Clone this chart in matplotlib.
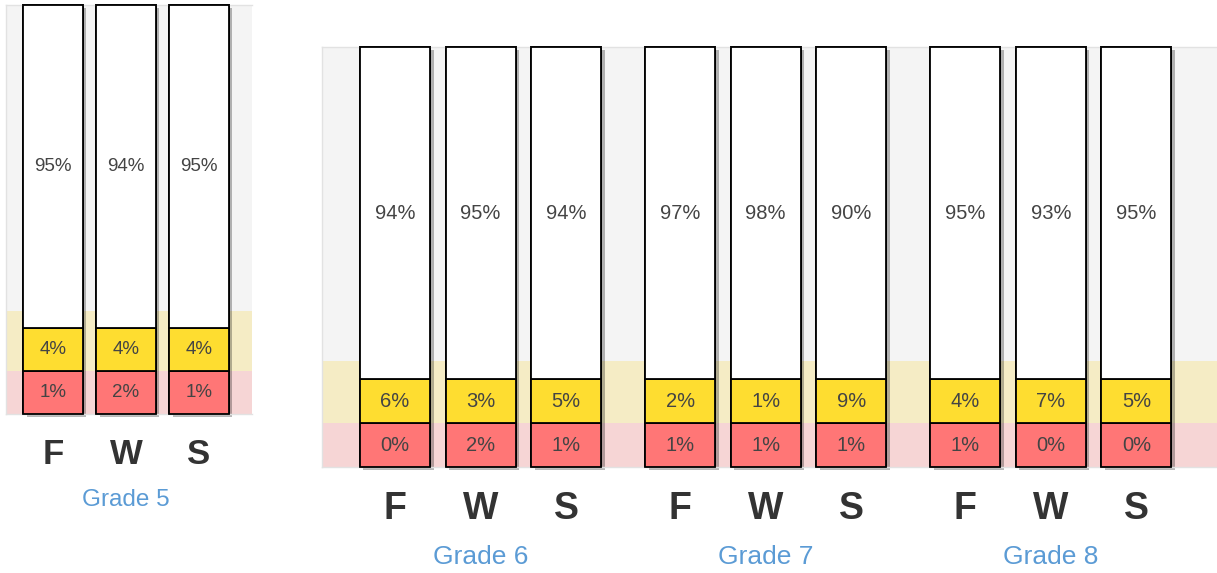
import matplotlib
matplotlib.use("Agg")
import matplotlib.pyplot as plt
import matplotlib.patheffects as pe

plt.rcParams['font.family'] = ['Liberation Sans', 'DejaVu Sans']

# ---- data ----
seasons = ["F", "W", "S"]
grades = ["Grade 5", "Grade 6", "Grade 7", "Grade 8"]
# percentages per grade per season: [red, yellow, white]
red_vals = [[1, 2, 1], [0, 2, 1], [1, 1, 1], [1, 0, 0]]
yellow_vals = [[4, 4, 4], [6, 3, 5], [2, 1, 9], [4, 7, 5]]
white_vals = [[95, 94, 95], [94, 95, 94], [97, 98, 90], [95, 93, 95]]

W, H = 1217, 573
fig = plt.figure(figsize=(W / 100, H / 100), dpi=100)
fig.patch.set_facecolor("white")

C_GREY = "#f4f4f4"
C_YBAND = "#f5ecc5"
C_PBAND = "#f6d5d5"
C_YEL = "#fedd30"
C_RED = "#ff7676"
C_TXT = "#444444"
C_LAB = "#333333"
C_BLUE = "#5b9bd5"

shadow = [pe.SimplePatchShadow(offset=(2.5, -2.5), shadow_rgbFace="#000000", alpha=0.28), pe.Normal()]


def make_axes(x0, y0, x1, y1):
    # pixel coords (top-left origin) -> figure fraction
    return fig.add_axes([x0 / W, 1 - y1 / H, (x1 - x0) / W, (y1 - y0) / H])


def draw_panel(ax, positions, reds, yels, whites, white_h, band_top, xlim, width,
               pct_fs, lab_fs, grade_fs, grade_names, grade_centers, lab_y, grade_y):
    ax.set_xlim(*xlim)
    ax.set_ylim(0, 2 + white_h)
    ax.set_facecolor(C_GREY)
    ax.axhspan(0, 1, color=C_PBAND, zorder=0, lw=0)
    ax.axhspan(1, band_top, color=C_YBAND, zorder=0, lw=0)
    for s in ax.spines.values():
        s.set_color("#e2e2e2")
        s.set_linewidth(1.0)
    ax.spines["right"].set_visible(False)
    ax.set_xticks([])
    ax.set_yticks([])
    for i, x in enumerate(positions):
        segs = [(0, 1, C_RED, reds[i]), (1, 1, C_YEL, yels[i]), (2, white_h, "white", whites[i])]
        # shadow under the whole bar
        full = ax.bar(x, 2 + white_h, width=width, bottom=0, color="white", edgecolor="black",
                      linewidth=1.3, zorder=2)
        full[0].set_path_effects(shadow)
        full[0].set_clip_on(False)
        for bottom, h, col, val in segs:
            b = ax.bar(x, h, width=width, bottom=bottom, color=col, edgecolor="black",
                       linewidth=1.3, zorder=3)
            b[0].set_clip_on(False)
            ax.text(x, bottom + h / 2, f"{val}%", ha="center", va="center",
                    fontsize=pct_fs, color=C_TXT, zorder=4)
        ax.text(x, lab_y, seasons[i % 3], ha="center", va="center", fontsize=lab_fs,
                fontweight="bold", color=C_LAB, clip_on=False)
    for g, gx in zip(grade_names, grade_centers):
        ax.text(gx, grade_y, g, ha="center", va="center", fontsize=grade_fs,
                color=C_BLUE, clip_on=False)


# Left panel (Grade 5)
axL = make_axes(6, 5, 252, 414)
posL = [0, 1, 2]
draw_panel(axL, posL, red_vals[0], yellow_vals[0], white_vals[0],
           white_h=7.5, band_top=2.4, xlim=(-0.644, 2.726), width=0.82,
           pct_fs=13.5, lab_fs=25, grade_fs=17.5, grade_names=[grades[0]],
           grade_centers=[1], lab_y=-0.95, grade_y=-2.0)

# Right panel (Grades 6-8)
axR = make_axes(322, 47, 1217, 467)
group_starts = [0, 10 / 3, 20 / 3]
posR = [gs + k for gs in group_starts for k in range(3)]
redsR = [v for g in red_vals[1:] for v in g]
yelsR = [v for g in yellow_vals[1:] for v in g]
whitesR = [v for g in white_vals[1:] for v in g]
draw_panel(axR, posR, redsR, yelsR, whitesR,
           white_h=7.57, band_top=2.41, xlim=(-0.854, 9.61), width=0.819,
           pct_fs=14.5, lab_fs=27, grade_fs=19, grade_names=grades[1:],
           grade_centers=[gs + 1 for gs in group_starts], lab_y=-0.95, grade_y=-2.05)

fig.savefig("out.png", dpi=100, facecolor="white")
